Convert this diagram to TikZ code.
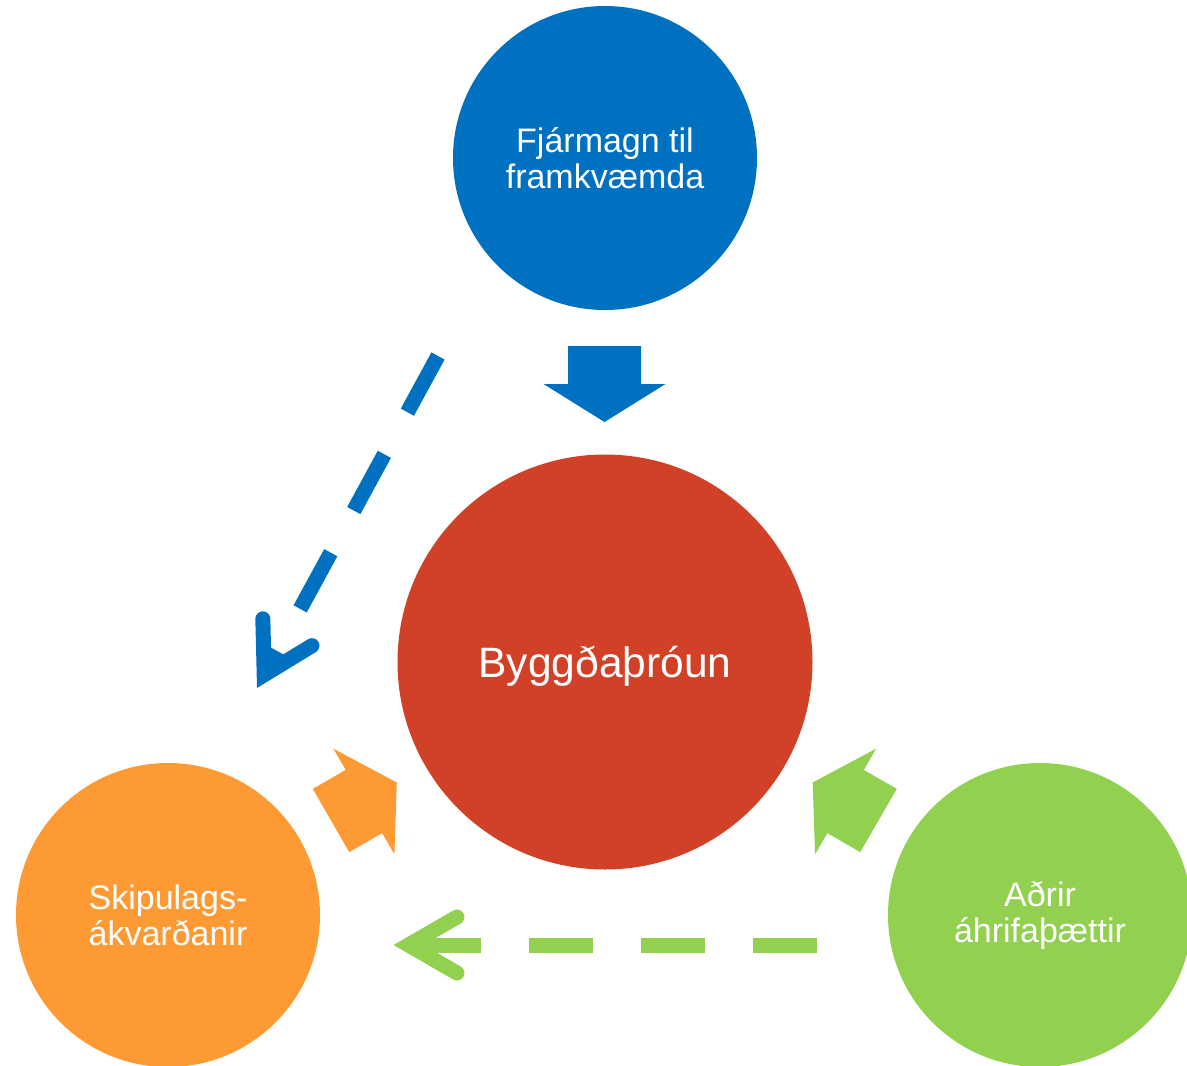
\documentclass[tikz,border=0pt]{standalone}
\usepackage{fontspec}
\setmainfont{Liberation Sans}
\usetikzlibrary{calc}
\definecolor{cblue}{RGB}{0,112,192}
\definecolor{cred}{RGB}{208,65,39}
\definecolor{corange}{RGB}{254,154,51}
\definecolor{cgreen}{RGB}{146,208,80}
\newcommand\myblockarrow[1]{\fill[#1] (0,-36.5) -- (38,-36.5) -- (38,-61) -- (76,0) -- (38,61) -- (38,36.5) -- (0,36.5) -- cycle;}
\begin{document}
\begin{tikzpicture}[x=1pt,y=-1pt,
  circ/.style={circle,inner sep=0pt,minimum size=#1,text=white,align=center,
    font=\fontsize{34}{36}\selectfont},
  dashline/.style={line width=15pt,dash pattern=on 64pt off 48pt,line cap=butt},
  chev/.style={line width=15pt,line cap=round,line join=miter}]
\useasboundingbox (0,0) rectangle (1187,1066);
% circles
\node[circ=304pt,fill=cblue] (fin) at (605,158) {Fjármagn til\\framkvæmda};
\node[circ=415pt,fill=cred] (byg) at (605,662) {};
\node[text=white,inner sep=0pt,font=\fontsize{42.5}{44}\selectfont] (bygtxt) at ($(byg.center)+(0,4.5)$) {Byggðaþróun};
\node[circ=304pt,fill=corange] (skip) at (168,915) {Skipulags-\\ákvarðanir};
\node[circ=304pt,fill=cgreen] (adr) at (1040,915) {Aðrir\\áhrifaþættir};
% block arrows
\begin{scope}[shift={(604.5,346)},rotate=-90]
  \myblockarrow{cblue}
\end{scope}
\begin{scope}[shift={(331,820.5)},rotate=30]
  \myblockarrow{corange}
\end{scope}
\begin{scope}[shift={(878.5,820.5)},rotate=150]
  \myblockarrow{cgreen}
\end{scope}
% dashed arrows
\coordinate (bs) at (438,356);
\coordinate (bv) at (264.2,674.8);
\draw[dashline,cblue] (bs) -- (bv);
\draw[chev,cblue] ($(bv)!56pt!30:(bs)$) -- (bv) -- ($(bv)!56pt!-30:(bs)$);
\coordinate (gs) at (816.7,945);
\coordinate (gv) at (408.5,945);
\draw[dashline,cgreen] (gs) -- (gv);
\draw[chev,cgreen] ($(gv)!56pt!30:(gs)$) -- (gv) -- ($(gv)!56pt!-30:(gs)$);
\end{tikzpicture}
\end{document}
